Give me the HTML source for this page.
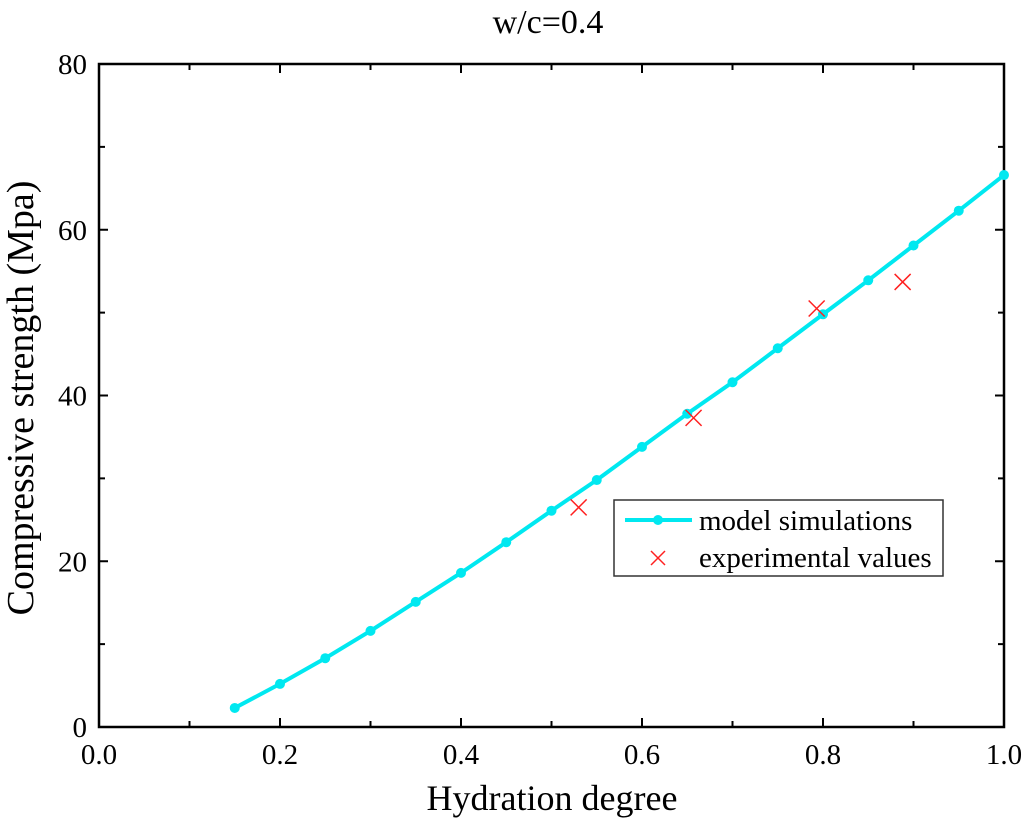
<!DOCTYPE html>
<html><head><meta charset="utf-8"><style>body{margin:0;background:#fff}svg{display:block}text{font-family:"Liberation Serif",serif;fill:#000}</style></head>
<body>
<svg id="chart" width="1024" height="823" xmlns="http://www.w3.org/2000/svg"></svg>
<script>
const modelX=[0.15,0.2,0.25,0.3,0.35,0.4,0.45,0.5,0.55,0.6,0.65,0.7,0.75,0.8,0.85,0.9,0.95,1.0];
const modelY=[2.3,5.2,8.3,11.6,15.1,18.6,22.3,26.1,29.8,33.8,37.8,41.6,45.7,49.8,53.9,58.1,62.3,66.6];
const expX=[0.53,0.657,0.793,0.888];
const expY=[26.5,37.3,50.5,53.7];
const xTicks=[0,0.2,0.4,0.6,0.8,1.0];
const yTicks=[0,20,40,60,80];
const L=99,R=1004,T=64,B=727;
const sx=v=>L+(R-L)*v, sy=v=>B-(B-T)*v/80;
const svg=document.getElementById('chart');const NS='http://www.w3.org/2000/svg';
function mk(t,a,txt){const e=document.createElementNS(NS,t);for(const k in a)e.setAttribute(k,a[k]);if(txt!=null)e.textContent=txt;svg.appendChild(e);return e;}
let e;
e=mk('rect',{x:L,y:T,width:R-L,height:B-T,fill:'none',stroke:'#000','stroke-width':2.5});

xTicks.forEach(v=>{const x=sx(v);
 e=mk('line',{x1:x,y1:B,x2:x,y2:B-9,stroke:'#000','stroke-width':2});
 e=mk('line',{x1:x,y1:T,x2:x,y2:T+9,stroke:'#000','stroke-width':2});
 e=mk('text',{x:x,y:B+37,'font-size':29,'text-anchor':'middle'},v.toFixed(1));
 if(v<1){const xm=sx(v+0.1);
 e=mk('line',{x1:xm,y1:B,x2:xm,y2:B-6,stroke:'#000','stroke-width':2});
 e=mk('line',{x1:xm,y1:T,x2:xm,y2:T+6,stroke:'#000','stroke-width':2});}
});
yTicks.forEach(v=>{const y=sy(v);
 e=mk('line',{x1:L,y1:y,x2:L+9,y2:y,stroke:'#000','stroke-width':2});
 e=mk('line',{x1:R,y1:y,x2:R-9,y2:y,stroke:'#000','stroke-width':2});
 e=mk('text',{x:L-12,y:y+10,'font-size':29,'text-anchor':'end'},String(v));
 if(v<80){const ym=sy(v+10);
 e=mk('line',{x1:L,y1:ym,x2:L+6,y2:ym,stroke:'#000','stroke-width':2});
 e=mk('line',{x1:R,y1:ym,x2:R-6,y2:ym,stroke:'#000','stroke-width':2});}
});
e=mk('text',{x:548,y:33,'font-size':34,'text-anchor':'middle'},'w/c=0.4');
e=mk('text',{x:552,y:810,'font-size':36,'text-anchor':'middle'},'Hydration degree');
e=mk('text',{x:33,y:398,'font-size':38,'text-anchor':'middle',transform:'rotate(-90 33 398)'},'Compressive strength (Mpa)');
e=mk('polyline',{points:modelX.map((x,i)=>sx(x)+','+sy(modelY[i])).join(' '),fill:'none',stroke:'#00e8f0','stroke-width':4});

modelX.forEach((x,i)=>{e=mk('circle',{cx:sx(x),cy:sy(modelY[i]),r:5,fill:'#00e8f0'});});
expX.forEach((x,i)=>{const cx=sx(x),cy=sy(expY[i]);
 e=mk('path',{d:`M${cx-8} ${cy-8}L${cx+8} ${cy+8}M${cx-8} ${cy+8}L${cx+8} ${cy-8}`,stroke:'#ff2020','stroke-width':1.5,fill:'none'});
 });
e=mk('rect',{x:614,y:500,width:329,height:76,fill:'#fff',stroke:'#333','stroke-width':1.5});
e=mk('line',{x1:625,y1:520,x2:692,y2:520,stroke:'#00e8f0','stroke-width':4});
e=mk('circle',{cx:658,cy:520,r:5,fill:'#00e8f0'});
e=mk('text',{x:699,y:530,'font-size':29},'model simulations');
e=mk('path',{d:'M651 551L665 565M651 565L665 551',stroke:'#ff2020','stroke-width':1.5});
e=mk('text',{x:699,y:567,'font-size':29},'experimental values');
</script>
</body></html>
